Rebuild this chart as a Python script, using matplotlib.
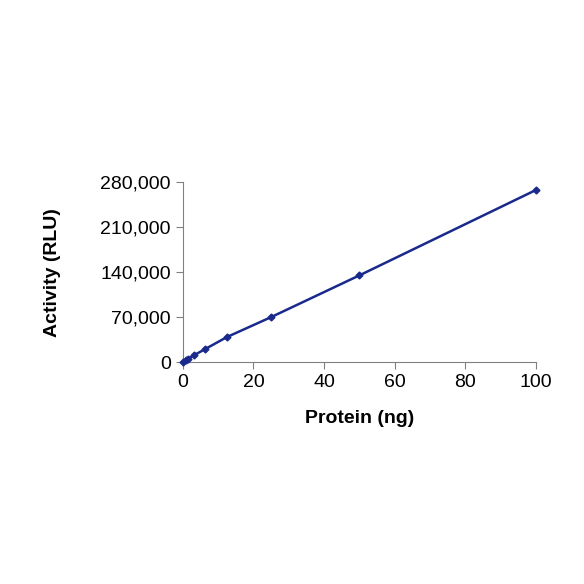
import matplotlib
matplotlib.use("Agg")
import matplotlib.pyplot as plt
from matplotlib.ticker import FuncFormatter

protein = [0, 0.78, 1.56, 3.125, 6.25, 12.5, 25, 50, 100]
activity = [0, 3000, 5500, 10500, 20000, 39000, 70000, 135000, 268000]
xticks = [0, 20, 40, 60, 80, 100]
yticks = [0, 70000, 140000, 210000, 280000]

plt.rcParams['font.family'] = ['Liberation Sans', 'DejaVu Sans']
fig = plt.figure(figsize=(5.84, 5.84), dpi=100)
ax = fig.add_axes([0.313, 0.380, 0.605, 0.308])
ax.plot(protein, activity, color='#1a2a8c', lw=1.8, marker='D', ms=3.5, clip_on=False, zorder=3)
ax.set_xlim(0, 100)
ax.set_ylim(0, 280000)
ax.set_xticks(xticks)
ax.set_yticks(yticks)
ax.yaxis.set_major_formatter(FuncFormatter(lambda v, p: f"{int(v):,}"))
for s in ['top', 'right']:
    ax.spines[s].set_visible(False)
for s in ['left', 'bottom']:
    ax.spines[s].set_color('#808080')
ax.tick_params(direction='out', length=5, color='#808080', labelsize=14)
ax.set_xlabel('Protein (ng)', fontsize=14, fontweight='bold', labelpad=14)
ax.set_ylabel('Activity (RLU)', fontsize=14, fontweight='bold', labelpad=28)
fig.savefig('out.png', dpi=100)
